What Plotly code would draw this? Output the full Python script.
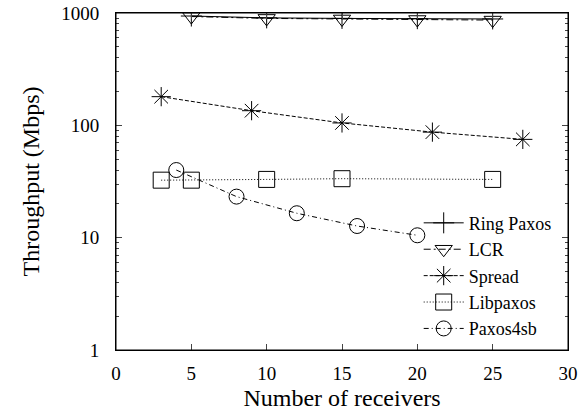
import plotly.graph_objects as go

# ---- data ----
ring_x = [5, 10, 15, 20, 25]
ring_y = [940, 905, 895, 890, 885]

lcr_x = [5, 10, 15, 20, 25]
lcr_y = [930, 895, 885, 875, 865]

spread_x = [3, 9, 15, 21, 27]
spread_y = [180, 135, 105, 87, 75]

lib_x = [3, 5, 10, 15, 25]
lib_y = [32.5, 32.5, 33, 33.5, 33]

p4sb_x = [4, 8, 12, 16, 20]
p4sb_y = [40, 23.2, 16.5, 12.7, 10.5]

x_ticks = [0, 5, 10, 15, 20, 25, 30]
y_ticks = [1, 10, 100, 1000]
y_minor = [m * d for d in (1, 10, 100) for m in range(2, 10)]

FONT = "Liberation Serif"

series = [
    ("Ring Paxos", ring_x, ring_y, "cross-thin-open", 15, "solid"),
    ("LCR", lcr_x, lcr_y, "triangle-down-open", 15, "7px,3px,2px,3px"),
    ("Spread", spread_x, spread_y, "asterisk-open", 16, "4px,2px"),
    ("Libpaxos", lib_x, lib_y, "square-open", 16, "1px,2px"),
    ("Paxos4sb", p4sb_x, p4sb_y, "circle-open", 15, "5px,3px,1px,3px"),
]

fig = go.Figure()
for name, xs, ys, sym, size, dash in series:
    fig.add_trace(go.Scatter(
        x=xs, y=ys, name=name, mode="lines+markers",
        line=dict(color="black", width=1, dash=dash),
        marker=dict(symbol=sym, size=size, color="black",
                    line=dict(color="black", width=1)),
    ))

fig.update_layout(
    template="none",
    width=582, height=413,
    margin=dict(l=116, r=14, t=13, b=63, autoexpand=False),
    paper_bgcolor="white", plot_bgcolor="white",
    font=dict(family=FONT, color="black", size=19),
    showlegend=True,
    legend=dict(
        x=0.975, y=0.01, xanchor="right", yanchor="bottom",
        bgcolor="rgba(0,0,0,0)", font=dict(size=18, family=FONT, color="black"),
        tracegroupgap=0, itemwidth=40,
    ),
    shapes=[dict(type="rect", xref="paper", yref="paper", x0=0, x1=1, y0=0, y1=1,
                 line=dict(color="black", width=1), layer="above")],
)

fig.update_xaxes(
    range=[0, 30], tickvals=x_ticks, ticks="inside", ticklen=6,
    mirror="allticks", showline=True, linecolor="black", linewidth=1,
    showgrid=False, zeroline=False, automargin=False,
    tickfont=dict(size=19, family=FONT, color="black"),
    ticklabelstandoff=6,
    title=dict(text="Number of receivers", font=dict(size=24, family=FONT, color="black"), standoff=6),
)
fig.update_yaxes(
    type="log", range=[0, 3], tickvals=y_ticks, ticktext=[str(v) for v in y_ticks],
    ticks="inside", ticklen=6,
    minor=dict(tickvals=y_minor, ticks="inside", ticklen=3, showgrid=False),
    mirror="allticks", showline=True, linecolor="black", linewidth=1,
    showgrid=False, zeroline=False, automargin=False,
    tickfont=dict(size=19, family=FONT, color="black"),
    ticklabelstandoff=12,
    title=dict(text="Throughput (Mbps)", font=dict(size=24, family=FONT, color="black"), standoff=14),
)

fig.write_html(
    "out.html",
    config={"displayModeBar": False},
    post_script="document.body.style.margin='0';document.body.style.overflow='hidden';",
)
